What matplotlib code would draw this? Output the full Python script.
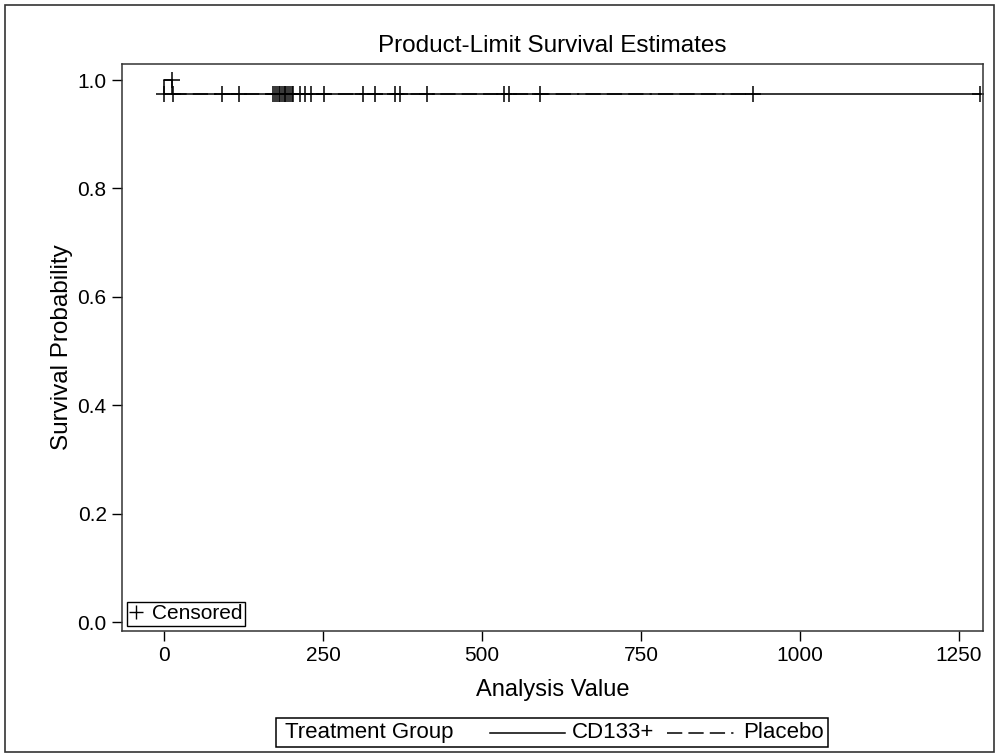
import matplotlib
matplotlib.use("Agg")
import matplotlib.pyplot as plt
from matplotlib.lines import Line2D
from matplotlib.patches import Rectangle
import numpy as np

plt.rcParams['font.family'] = ['Liberation Sans', 'DejaVu Sans']

# ---- data ----
groups = ["CD133+", "Placebo"]
legend_title = "Treatment Group"
# step curves: event times and survival after each step (start at 1.0)
cd133_times = [0, 13, 1283]
cd133_surv = [1.0, 0.9737, 0.9737]
placebo_times = [0, 0, 927]
placebo_surv = [1.0, 0.975, 0.975]
# censored observations
cd133_cens_t = [13, 0, 14, 118, 172, 178, 183, 188, 192, 198, 214, 231, 313, 363, 534, 591, 1283]
cd133_cens_s = [1.0] + [0.9737] * 16
placebo_cens_t = [91, 175, 181, 186, 190, 195, 201, 203, 222, 252, 332, 371, 413, 542, 927]
placebo_cens_s = [0.975] * len(placebo_cens_t)

xticks = [0, 250, 500, 750, 1000, 1250]
yticks = [0.0, 0.2, 0.4, 0.6, 0.8, 1.0]

W, H = 996, 756
fig = plt.figure(figsize=(9.96, 7.56), dpi=100)
ax = fig.add_axes([0.1225, 0.1653, 0.987 - 0.1225, 0.9153 - 0.1653])

dash = (0, (10, 4, 10, 4, 10, 4, 1.5, 4))
ax.step(cd133_times, cd133_surv, where='post', color='black', lw=1.1)
ax.step(placebo_times, placebo_surv, where='post', color='black', lw=1.1, linestyle=dash)
ax.plot(cd133_cens_t, cd133_cens_s, linestyle='none', marker='+', color='black',
        markersize=11, markeredgewidth=1.1)
ax.plot(placebo_cens_t, placebo_cens_s, linestyle='none', marker='+', color='black',
        markersize=11, markeredgewidth=1.1)

ax.set_xlim(-66, 1288)
ax.set_ylim(-0.0166, 1.0295)
ax.set_xticks(xticks)
ax.set_xticklabels([str(v) for v in xticks])
ax.set_yticks(yticks)
ax.set_yticklabels([f"{v:.1f}" for v in yticks])
ax.tick_params(direction='out', length=7, width=1, colors='black', labelsize=15, pad=4)
for s in ax.spines.values():
    s.set_linewidth(1.1)
    s.set_color('#333333')

ax.set_xlabel("Analysis Value", fontsize=17, labelpad=10)
ax.set_ylabel("Survival Probability", fontsize=17.5, labelpad=3)
ax.set_title("Product-Limit Survival Estimates", fontsize=17.5, pad=9)

cens_handle = Line2D([], [], linestyle='none', marker='+', color='black',
                     markersize=10, markeredgewidth=1.0)
lg = ax.legend([cens_handle], ["Censored"], loc='lower left', fontsize=15,
               handlelength=0.6, handletextpad=0.45, borderpad=0.12,
               borderaxespad=0.25, fancybox=False, framealpha=1,
               edgecolor='black')
lg.get_frame().set_linewidth(1.0)

# bottom legend for treatment groups (drawn in figure pixel coords)
yc = 1 - 732.5 / H
fig.patches.append(Rectangle((276 / W, 1 - 747 / H), (828 - 276) / W, 29 / H,
                             transform=fig.transFigure, fill=False,
                             edgecolor='black', lw=1.1))
fig.text(285 / W, yc, legend_title, fontsize=16, va='center', ha='left')
fig.lines.append(Line2D([490 / W, 565 / W], [yc, yc], transform=fig.transFigure,
                        color='black', lw=1.1))
fig.text(572 / W, yc, groups[0], fontsize=16, va='center', ha='left')
fig.lines.append(Line2D([667 / W, 735 / W], [yc, yc], transform=fig.transFigure,
                        color='black', lw=1.1, linestyle=dash))
fig.text(743 / W, yc, groups[1], fontsize=16, va='center', ha='left')

# outer border
fig.patches.append(Rectangle((5 / W, 4 / H), 989 / W, 747 / H,
                             transform=fig.transFigure, fill=False,
                             edgecolor='#333333', lw=1.2))

fig.savefig("out.png", dpi=100)
